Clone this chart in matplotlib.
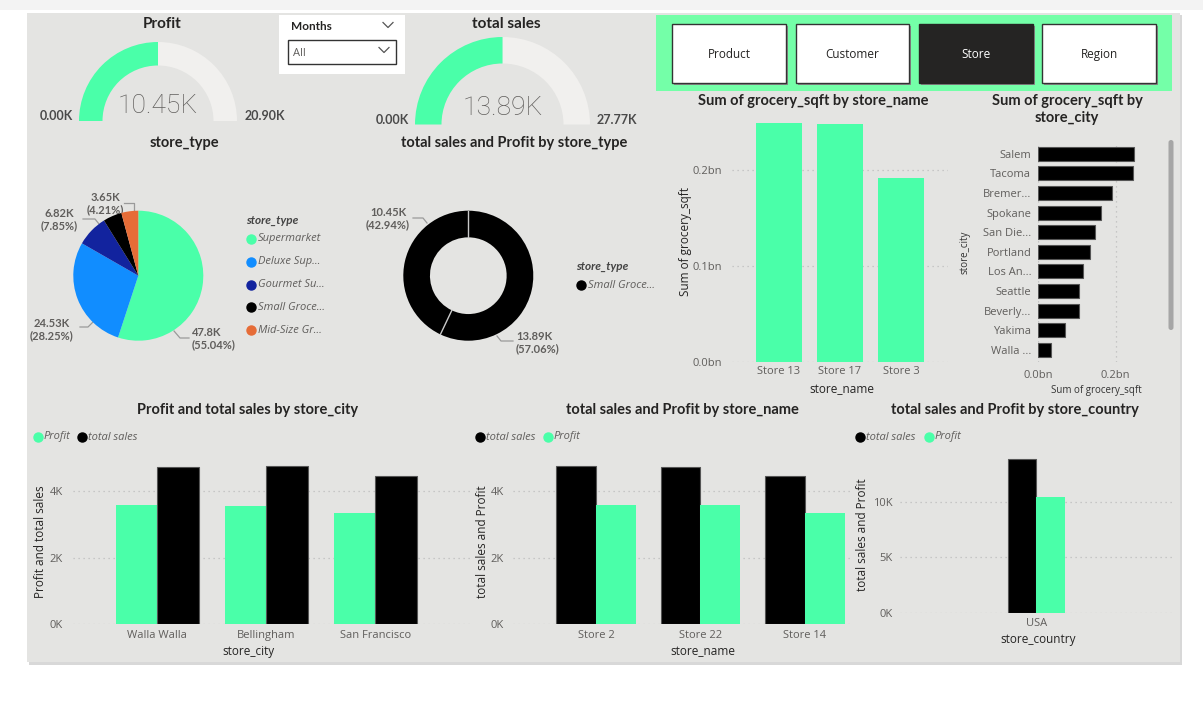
import numpy as np
import matplotlib
matplotlib.use("Agg")
import matplotlib.pyplot as plt
from matplotlib.patches import Rectangle, Wedge, FancyBboxPatch
from matplotlib.ticker import FuncFormatter

plt.rcParams['font.family'] = ['Open Sans', 'DejaVu Sans']

# ---------------- data ----------------
profit_total = 10.45
profit_max = 20.90
sales_total = 13.887
sales_max = 27.774

pie_types = ["Supermarket", "Deluxe Sup...", "Gourmet Su...", "Small Groce...", "Mid-Size Gr..."]
pie_values = [47.80, 24.534, 6.82, 4.032, 3.654]

donut_labels = ["total sales", "Profit"]
donut_values = [13.887, 10.45]

sqft_stores = ["Store 13", "Store 17", "Store 3"]
sqft_store_values = [0.249, 0.248, 0.192]

sqft_cities = ["Salem", "Tacoma", "Bremer...", "Spokane", "San Die...", "Portland",
               "Los An...", "Seattle", "Beverly...", "Yakima", "Walla ..."]
sqft_city_values = [0.248, 0.246, 0.191, 0.163, 0.147, 0.134, 0.116, 0.106, 0.104, 0.070, 0.034]

city_names = ["Walla Walla", "Bellingham", "San Francisco"]
city_profit = [3.58, 3.56, 3.34]
city_sales = [4.73, 4.76, 4.46]

store_names = ["Store 2", "Store 22", "Store 14"]
store_sales = [4.76, 4.73, 4.46]
store_profit = [3.57, 3.59, 3.34]

country_names = ["USA"]
country_sales = [13.887]
country_profit = [10.45]

buttons = ["Product", "Customer", "Store", "Region"]

# ---------------- style ----------------
W, H = 1203, 710
GREEN = '#4AFFA9'
BG = '#E4E4E2'
GAUGE_GRAY = '#F1F0EE'
TXT = '#252423'
TICK = '#605E5C'
TITLE_FONT = ['Lato', 'DejaVu Sans']

fig = plt.figure(figsize=(W / 100, H / 100), dpi=100)
fig.patch.set_facecolor('white')

bg = fig.add_axes([0, 0, 1, 1])
bg.set_xlim(0, W)
bg.set_ylim(0, H)
bg.axis('off')


def Y(y):
    return H - y


def rect(x0, y0, x1, y1):
    return [x0 / W, 1 - y1 / H, (x1 - x0) / W, (y1 - y0) / H]


def prect(x0, y0, x1, y1, **kw):
    bg.add_patch(Rectangle((x0, Y(y1)), x1 - x0, y1 - y0, **kw))


def txt(x, y, s, **kw):
    kw.setdefault('color', TXT)
    bg.text(x, Y(y), s, **kw)


def title(x, y, s, size=10.5):
    txt(x, y, s, ha='center', va='center', fontsize=size, fontweight='bold',
        family=TITLE_FONT)


def kval(v):
    return f"{v:.2f}".rstrip('0').rstrip('.') + "K"


# page + dashboard background
prect(0, 0, W, 10, facecolor='#F3F3F3', edgecolor='none')
prect(29, 15, 1182, 665, facecolor='#D8D8D8', edgecolor='none')
prect(27, 13, 1180, 662, facecolor=BG, edgecolor='none')

# ---------------- gauges ----------------
def gauge(cx, cy, r_out, r_in, val, vmax):
    f = val / vmax
    ang = 180 - 180 * f
    bg.add_patch(Wedge((cx, Y(cy)), r_out, 0, ang, width=r_out - r_in,
                       facecolor=GAUGE_GRAY, edgecolor='none'))
    bg.add_patch(Wedge((cx, Y(cy)), r_out, ang, 180, width=r_out - r_in,
                       facecolor=GREEN, edgecolor='none'))


VALFONT = dict(ha='center', va='center', fontsize=19, color='#605E5C',
               family=['Roboto', 'DejaVu Sans'], fontweight='light')
ENDFONT = dict(ha='center', va='center', fontsize=9, fontweight='bold', color='#4a4a4a', family=TITLE_FONT)

gauge(158, 121, 79, 55.5, profit_total, profit_max)
title(162, 24, "Profit", 11)
txt(158, 106, f"{profit_total:.2f}K", **VALFONT)
txt(56, 116, "0.00K", **ENDFONT)
txt(265, 116, f"{profit_max:.2f}K", **ENDFONT)

gauge(502.5, 124.5, 87.5, 61, sales_total, sales_max)
title(506, 24, "total sales", 11)
txt(503, 108, f"{sales_total:.2f}K", **VALFONT)
txt(392, 120, "0.00K", **ENDFONT)
txt(617, 120, f"{sales_max:.2f}K", **ENDFONT)

# ---------------- months slicer ----------------
prect(279, 15, 405, 74, facecolor='white', edgecolor='none')
prect(288, 40, 396, 64, facecolor='white', edgecolor='#333333', linewidth=1)
txt(291, 27, "Months", ha='left', va='center', fontsize=8.5, fontweight='bold', family=TITLE_FONT)
txt(293, 53, "All", ha='left', va='center', fontsize=8, color='#605E5C')
for (cx, cy) in [(388, 25), (384, 50)]:
    bg.plot([cx - 5, cx, cx + 5], [Y(cy - 2.5), Y(cy + 2.5), Y(cy - 2.5)], color='#555555', lw=0.9)

# ---------------- buttons ----------------
prect(656, 15, 1172, 91, facecolor='#74FFA8', edgecolor='none')
bx = [(672, 786), (796, 909), (919, 1033), (1042, 1156)]
for (x0, x1), name in zip(bx, buttons):
    prect(x0 + 1.5, 25.5, x1 + 1.5, 84.5, facecolor='#8A8A8A', edgecolor='none')
    if name == "Store":
        prect(x0, 24, x1, 83, facecolor='#252423', edgecolor='#252423', linewidth=1)
        txt((x0 + x1) / 2, 54.5, name, ha='center', va='center', fontsize=8.5, color='white')
    else:
        prect(x0, 24, x1, 83, facecolor='white', edgecolor='#333333', linewidth=1)
        txt((x0 + x1) / 2, 54.5, name, ha='center', va='center', fontsize=8.5, color=TXT)

# ---------------- pie ----------------
pie_colors = [GREEN, '#118DFF', '#12239E', '#000000', '#E66C37']
title(184, 143, "store_type")
axp = fig.add_axes(rect(138.3 - 65, 275.7 - 65, 138.3 + 65, 275.7 + 65))
axp.pie(pie_values, colors=pie_colors, startangle=90, counterclock=False, radius=1,
        wedgeprops=dict(edgecolor='none'))
axp.set_xlim(-1, 1); axp.set_ylim(-1, 1); axp.set_aspect('equal')
axp.axis('off')

tot = sum(pie_values)
LBL = dict(fontsize=8, fontweight='bold', color='#605E5C', family=TITLE_FONT, linespacing=1.15)
lead = dict(color='#9a9a9a', lw=0.9)
txt(192, 339, f"{kval(pie_values[0])}\n({pie_values[0]/tot*100:.2f}%)", ha='left', va='center', **LBL)
bg.plot([174, 180, 189], [Y(331), Y(338), Y(338)], **lead)
txt(52, 330, f"{kval(pie_values[1])}\n({pie_values[1]/tot*100:.2f}%)", ha='center', va='center', **LBL)
bg.plot([80, 88, 93], [Y(327), Y(327), Y(322)], **lead)
txt(59, 220, f"{kval(pie_values[2])}\n({pie_values[2]/tot*100:.2f}%)", ha='center', va='center', **LBL)
bg.plot([83, 95, 99], [Y(219), Y(219), Y(224)], **lead)
txt(105, 204, f"{kval(pie_values[4])}\n({pie_values[4]/tot*100:.2f}%)", ha='center', va='center', **LBL)
bg.plot([124, 134, 134], [Y(203), Y(203), Y(210)], **lead)

LEG = dict(fontsize=8, fontstyle='italic', color='#605E5C')
txt(246, 220, "store_type", ha='left', va='center', fontsize=8.5, fontweight='bold',
    fontstyle='italic', color='#444444', family=TITLE_FONT)
for i, (name, c) in enumerate(zip(pie_types, pie_colors)):
    yy = 239 + i * 22.8
    bg.plot([251], [Y(yy)], 'o', color=c, markersize=6.5)
    txt(257.5, yy, name, ha='left', va='center', **LEG)

# ---------------- donut ----------------
title(514, 143, "total sales and Profit by store_type")
axd = fig.add_axes(rect(468.3 - 65, 275.7 - 65, 468.3 + 65, 275.7 + 65))
axd.pie(donut_values, colors=['#000000', '#000000'], startangle=90, counterclock=False,
        radius=1, wedgeprops=dict(width=0.41, edgecolor='none'))
dtot = sum(donut_values)
for frac in [0, donut_values[0] / dtot]:
    a = np.deg2rad(90 - 360 * frac)
    axd.plot([0.59 * np.cos(a), 1.0 * np.cos(a)], [0.59 * np.sin(a), 1.0 * np.sin(a)],
             color='#C8C8C8', lw=1)
axd.set_xlim(-1, 1); axd.set_ylim(-1, 1); axd.set_aspect('equal')
axd.axis('off')
txt(388, 219, f"{kval(donut_values[1])}\n({donut_values[1]/dtot*100:.2f}%)", ha='center', va='center', **LBL)
bg.plot([413, 423, 427], [Y(218), Y(218), Y(223)], **lead)
txt(516, 343, f"{kval(donut_values[0])}\n({donut_values[0]/dtot*100:.2f}%)", ha='left', va='center', **LBL)
bg.plot([497, 501, 513], [Y(336), Y(341), Y(341)], **lead)
txt(576, 266, "store_type", ha='left', va='center', fontsize=8.5, fontweight='bold',
    fontstyle='italic', color='#444444', family=TITLE_FONT)
bg.plot([581], [Y(285)], 'o', color='black', markersize=6.5)
txt(587.5, 285, "Small Groce...", ha='left', va='center', **LEG)


def style_axes(ax):
    ax.set_facecolor('none')
    for s in ax.spines.values():
        s.set_visible(False)
    ax.tick_params(length=0, labelsize=8, labelcolor=TICK)


GRID = dict(color='#BDBDBD', linestyle=(0, (1, 3)), linewidth=0.9)

# ---------------- grocery sqft by store_name ----------------
title(813, 101, "Sum of grocery_sqft by store_name")
ax1 = fig.add_axes(rect(731.7, 118, 948, 361.7))
style_axes(ax1)
x = np.arange(len(sqft_stores))
ax1.bar(x, sqft_store_values, width=0.76, color=GREEN, zorder=3)
ax1.set_xlim(-0.775, 2.77)
ax1.set_ylim(0, 0.2543)
ax1.set_yticks([0, 0.1, 0.2])
ax1.yaxis.set_major_formatter(FuncFormatter(lambda v, p: f"{v:.1f}bn"))
ax1.set_xticks(x)
ax1.set_xticklabels(sqft_stores)
ax1.yaxis.grid(True, **GRID)
ax1.tick_params(axis='y', pad=7)
ax1.tick_params(axis='x', pad=3)
txt(841.7, 390, "store_name", ha='center', va='center', fontsize=8.5)
txt(685, 242, "Sum of grocery_sqft", ha='center', va='center', fontsize=8.5, rotation=90)

# ---------------- grocery sqft by store_city ----------------
title(1067, 101, "Sum of grocery_sqft by")
title(1067, 118, "store_city")
ax2 = fig.add_axes(rect(1038.3, 141.7, 1166, 361.7))
style_axes(ax2)
yc = np.arange(len(sqft_cities))
ax2.barh(yc, sqft_city_values, height=0.71, color='black', edgecolor='#555555', linewidth=0.8, zorder=3)
ax2.set_ylim(10.6, -0.61)
ax2.set_xlim(0, 0.33)
ax2.set_yticks(yc)
ax2.set_yticklabels(sqft_cities)
ax2.set_xticks([0, 0.2])
ax2.xaxis.set_major_formatter(FuncFormatter(lambda v, p: f"{v:.1f}bn"))
ax2.xaxis.grid(True, **GRID)
ax2.tick_params(axis='y', pad=5)
ax2.tick_params(axis='x', pad=6)
txt(1096, 390, "Sum of grocery_sqft", ha='center', va='center', fontsize=7, color='#333333')
txt(965, 252, "store_city", ha='center', va='center', fontsize=7, rotation=90, color='#333333')
bg.add_patch(FancyBboxPatch((1168.5, Y(330)), 5, 190, boxstyle="round,pad=0,rounding_size=2.5",
                            facecolor='#A6A6A6', edgecolor='none'))

# ---------------- bottom charts ----------------
def kfmt(v, p):
    return f"{v:.0f}K"


def legend_row(items, y):
    for (mx, tx, label, c) in items:
        bg.plot([mx], [Y(y)], 'o', color=c, markersize=6.5)
        txt(tx, y, label, ha='left', va='center', **LEG)


# Profit and total sales by store_city
title(248, 410, "Profit and total sales by store_city")
legend_row([(37.5, 43.5, "Profit", GREEN), (81.7, 87.7, "total sales", 'black')], 437)
ax3 = fig.add_axes(rect(72.7, 455, 470, 624.3))
style_axes(ax3)
xc = np.arange(len(city_names))
ax3.bar(xc - 0.19, city_profit, width=0.38, color=GREEN, zorder=3)
ax3.bar(xc + 0.19, city_sales, width=0.38, color='black', edgecolor='#555555', linewidth=0.8, zorder=3)
ax3.set_xlim(-0.776, 2.87)
ax3.set_ylim(0, 5.08)
ax3.set_yticks([0, 2, 4])
ax3.yaxis.set_major_formatter(FuncFormatter(kfmt))
ax3.set_xticks(xc)
ax3.set_xticklabels(city_names)
ax3.yaxis.grid(True, **GRID)
ax3.tick_params(axis='y', pad=7)
ax3.tick_params(axis='x', pad=4)
txt(248, 652, "store_city", ha='center', va='center', fontsize=8.5)
txt(40, 542, "Profit and total sales", ha='center', va='center', fontsize=8.5, rotation=90)

# total sales and Profit by store_name
title(682, 410, "total sales and Profit by store_name")
legend_row([(479.5, 486, "total sales", 'black'), (547.5, 554, "Profit", GREEN)], 437)
ax4 = fig.add_axes(rect(513.3, 455, 850, 624.3))
style_axes(ax4)
xs = np.arange(len(store_names))
ax4.bar(xs - 0.19, store_sales, width=0.38, color='black', edgecolor='#555555', linewidth=0.8, zorder=3)
ax4.bar(xs + 0.19, store_profit, width=0.38, color=GREEN, zorder=3)
ax4.set_xlim(-0.79, 2.43)
ax4.set_ylim(0, 5.08)
ax4.set_yticks([0, 2, 4])
ax4.yaxis.set_major_formatter(FuncFormatter(kfmt))
ax4.set_xticks(xs)
ax4.set_xticklabels(store_names)
ax4.yaxis.grid(True, **GRID)
ax4.tick_params(axis='y', pad=7)
ax4.tick_params(axis='x', pad=4)
txt(703, 652, "store_name", ha='center', va='center', fontsize=8.5)
txt(482, 542, "total sales and Profit", ha='center', va='center', fontsize=8.5, rotation=90)

# total sales and Profit by store_country
title(1015, 410, "total sales and Profit by store_country")
legend_row([(860, 866.5, "total sales", 'black'), (928.5, 935, "Profit", GREEN)], 437)
ax5 = fig.add_axes(rect(900, 450, 1173.3, 612.7))
style_axes(ax5)
xk = np.arange(len(country_names))
ax5.bar(xk - 0.19, country_sales, width=0.38, color='black', edgecolor='#555555', linewidth=0.8, zorder=3)
ax5.bar(xk + 0.19, country_profit, width=0.38, color=GREEN, zorder=3)
ax5.set_xlim(-1.805, 1.815)
ax5.set_ylim(0, 14.7)
ax5.set_yticks([0, 5, 10])
ax5.yaxis.set_major_formatter(FuncFormatter(kfmt))
ax5.set_xticks(xk)
ax5.set_xticklabels(country_names)
ax5.yaxis.grid(True, **GRID)
ax5.tick_params(axis='y', pad=5)
ax5.tick_params(axis='x', pad=4)
txt(1038, 640, "store_country", ha='center', va='center', fontsize=8.5)
txt(863, 535, "total sales and Profit", ha='center', va='center', fontsize=8.5, rotation=90)

fig.savefig("out.png", dpi=100, facecolor=fig.get_facecolor())
